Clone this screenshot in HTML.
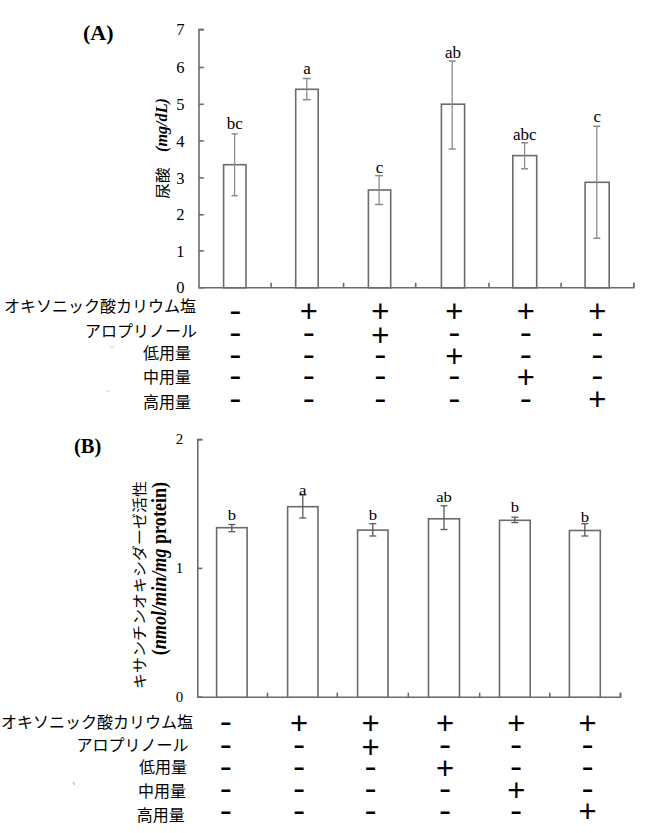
<!DOCTYPE html>
<html><head><meta charset="utf-8"><title>Figure</title>
<style>
html,body{margin:0;padding:0;background:#fff;}
svg{display:block;}
text{fill:#000;stroke:none;}
.s{font-family:"Liberation Serif","Times New Roman",serif;}
.j{font-family:"Liberation Sans","Noto Sans CJK JP",sans-serif;}
.g{font-family:"Liberation Sans",Arial,sans-serif;}
.bar{fill:#fff;stroke:#6b6b6b;stroke-width:1.6;}
</style></head>
<body>
<svg width="650" height="833" viewBox="0 0 650 833">
<rect width="650" height="833" fill="#fff"/>
<g stroke="#6b6b6b" stroke-width="1.6">
<path d="M203.8 29.6 H199 V287.8 H633.8 V282.8" fill="none" stroke="#6b6b6b" stroke-width="1.6" stroke-linejoin="miter"/>
<line x1="199" y1="287.8" x2="203.8" y2="287.8"/>
<text class="s" x="184.5" y="293.4" font-size="16.5" text-anchor="end">0</text>
<line x1="199" y1="250.9" x2="203.8" y2="250.9"/>
<text class="s" x="184.5" y="256.5" font-size="16.5" text-anchor="end">1</text>
<line x1="199" y1="214.8" x2="203.8" y2="214.8"/>
<text class="s" x="184.5" y="220.4" font-size="16.5" text-anchor="end">2</text>
<line x1="199" y1="177.9" x2="203.8" y2="177.9"/>
<text class="s" x="184.5" y="183.5" font-size="16.5" text-anchor="end">3</text>
<line x1="199" y1="140.9" x2="203.8" y2="140.9"/>
<text class="s" x="184.5" y="146.5" font-size="16.5" text-anchor="end">4</text>
<line x1="199" y1="104.3" x2="203.8" y2="104.3"/>
<text class="s" x="184.5" y="109.9" font-size="16.5" text-anchor="end">5</text>
<line x1="199" y1="67.5" x2="203.8" y2="67.5"/>
<text class="s" x="184.5" y="73.1" font-size="16.5" text-anchor="end">6</text>
<line x1="199" y1="29.6" x2="203.8" y2="29.6"/>
<text class="s" x="184.5" y="35.2" font-size="16.5" text-anchor="end">7</text>
<line x1="271.1" y1="287.8" x2="271.1" y2="282.8"/>
<line x1="343.6" y1="287.8" x2="343.6" y2="282.8"/>
<line x1="415.7" y1="287.8" x2="415.7" y2="282.8"/>
<line x1="489" y1="287.8" x2="489" y2="282.8"/>
<line x1="561.1" y1="287.8" x2="561.1" y2="282.8"/>
<line x1="633.8" y1="287.8" x2="633.8" y2="282.8"/>
<rect class="bar" x="223.6" y="164.7" width="22.4" height="123.1"/>
<line x1="234.6" y1="133.9" x2="234.6" y2="195.7" stroke="#8c8c8c" stroke-width="1.3"/>
<line x1="231.6" y1="133.9" x2="237.6" y2="133.9" stroke="#8a8a8a" stroke-width="1.5"/>
<line x1="231.6" y1="195.7" x2="237.6" y2="195.7" stroke="#8a8a8a" stroke-width="1.5"/>
<text class="s" x="234.8" y="128.8" font-size="17" text-anchor="middle">bc</text>
<rect class="bar" x="295.7" y="89.3" width="22.5" height="198.5"/>
<line x1="306.8" y1="78.5" x2="306.8" y2="99.7" stroke="#8c8c8c" stroke-width="1.3"/>
<line x1="302.8" y1="78.5" x2="310.8" y2="78.5" stroke="#8a8a8a" stroke-width="1.5"/>
<line x1="302.8" y1="99.7" x2="310.8" y2="99.7" stroke="#8a8a8a" stroke-width="1.5"/>
<text class="s" x="306.95" y="74.4" font-size="17" text-anchor="middle">a</text>
<rect class="bar" x="368.4" y="190" width="22.3" height="97.8"/>
<line x1="379.1" y1="175.6" x2="379.1" y2="204.5" stroke="#8c8c8c" stroke-width="1.3"/>
<line x1="375.1" y1="175.6" x2="383.1" y2="175.6" stroke="#8a8a8a" stroke-width="1.5"/>
<line x1="375.1" y1="204.5" x2="383.1" y2="204.5" stroke="#8a8a8a" stroke-width="1.5"/>
<text class="s" x="379.55" y="172.8" font-size="17" text-anchor="middle">c</text>
<rect class="bar" x="441.4" y="104.2" width="23.2" height="183.6"/>
<line x1="452.2" y1="61" x2="452.2" y2="149" stroke="#8c8c8c" stroke-width="1.3"/>
<line x1="448.7" y1="61" x2="455.7" y2="61" stroke="#8a8a8a" stroke-width="1.5"/>
<line x1="448.7" y1="149" x2="455.7" y2="149" stroke="#8a8a8a" stroke-width="1.5"/>
<text class="s" x="453" y="58" font-size="17" text-anchor="middle">ab</text>
<rect class="bar" x="512.8" y="155.6" width="23.9" height="132.2"/>
<line x1="524.6" y1="142.8" x2="524.6" y2="168.8" stroke="#8c8c8c" stroke-width="1.3"/>
<line x1="521.1" y1="142.8" x2="528.1" y2="142.8" stroke="#8a8a8a" stroke-width="1.5"/>
<line x1="521.1" y1="168.8" x2="528.1" y2="168.8" stroke="#8a8a8a" stroke-width="1.5"/>
<text class="s" x="524.75" y="139.5" font-size="17" text-anchor="middle">abc</text>
<rect class="bar" x="585.1" y="182.3" width="24.1" height="105.5"/>
<line x1="596.8" y1="126.3" x2="596.8" y2="238.3" stroke="#8c8c8c" stroke-width="1.3"/>
<line x1="593.3" y1="126.3" x2="600.3" y2="126.3" stroke="#8a8a8a" stroke-width="1.5"/>
<line x1="593.3" y1="238.3" x2="600.3" y2="238.3" stroke="#8a8a8a" stroke-width="1.5"/>
<text class="s" x="597.15" y="121.8" font-size="17" text-anchor="middle">c</text>
<text class="s" x="83" y="40" font-size="22" font-weight="bold">(A)</text>
<text transform="translate(167.6 198.7) rotate(-90) scale(1 0.92)" font-size="15.6" class="j">尿酸</text>
<text transform="translate(167.3 152) rotate(-90)" font-size="16.2" class="s" font-weight="bold" font-style="italic">(mg/dL)</text>
<text class="j" x="196" y="311.5" font-size="16" text-anchor="end">オキソニック酸カリウム塩</text>
<text class="j" x="197" y="337" font-size="16" text-anchor="end">アロプリノール</text>
<text class="j" x="191" y="359" font-size="16" text-anchor="end">低用量</text>
<text class="j" x="191" y="383" font-size="16" text-anchor="end">中用量</text>
<text class="j" x="191" y="407.5" font-size="16" text-anchor="end">高用量</text>
<text transform="translate(235.4 322) scale(1.18 1.1)" class="g" font-size="31" text-anchor="middle">-</text>
<text class="g" x="308.8" y="322" font-size="31" text-anchor="middle">+</text>
<text class="g" x="380.3" y="322" font-size="31" text-anchor="middle">+</text>
<text class="g" x="454.4" y="322" font-size="31" text-anchor="middle">+</text>
<text class="g" x="525.8" y="322" font-size="31" text-anchor="middle">+</text>
<text class="g" x="597.3" y="322" font-size="31" text-anchor="middle">+</text>
<text transform="translate(235.4 344) scale(1.18 1.1)" class="g" font-size="31" text-anchor="middle">-</text>
<text transform="translate(308.8 344) scale(1.18 1.1)" class="g" font-size="31" text-anchor="middle">-</text>
<text class="g" x="380.3" y="346" font-size="31" text-anchor="middle">+</text>
<text transform="translate(454.4 344) scale(1.18 1.1)" class="g" font-size="31" text-anchor="middle">-</text>
<text transform="translate(525.8 344) scale(1.18 1.1)" class="g" font-size="31" text-anchor="middle">-</text>
<text transform="translate(597.3 344) scale(1.18 1.1)" class="g" font-size="31" text-anchor="middle">-</text>
<text transform="translate(235.4 366) scale(1.18 1.1)" class="g" font-size="31" text-anchor="middle">-</text>
<text transform="translate(308.8 366) scale(1.18 1.1)" class="g" font-size="31" text-anchor="middle">-</text>
<text transform="translate(380.3 366) scale(1.18 1.1)" class="g" font-size="31" text-anchor="middle">-</text>
<text class="g" x="454.4" y="367" font-size="31" text-anchor="middle">+</text>
<text transform="translate(525.8 366) scale(1.18 1.1)" class="g" font-size="31" text-anchor="middle">-</text>
<text transform="translate(597.3 366) scale(1.18 1.1)" class="g" font-size="31" text-anchor="middle">-</text>
<text transform="translate(235.4 387) scale(1.18 1.1)" class="g" font-size="31" text-anchor="middle">-</text>
<text transform="translate(308.8 387) scale(1.18 1.1)" class="g" font-size="31" text-anchor="middle">-</text>
<text transform="translate(380.3 387) scale(1.18 1.1)" class="g" font-size="31" text-anchor="middle">-</text>
<text transform="translate(454.4 387) scale(1.18 1.1)" class="g" font-size="31" text-anchor="middle">-</text>
<text class="g" x="525.8" y="388" font-size="31" text-anchor="middle">+</text>
<text transform="translate(597.3 387) scale(1.18 1.1)" class="g" font-size="31" text-anchor="middle">-</text>
<text transform="translate(235.4 410) scale(1.18 1.1)" class="g" font-size="31" text-anchor="middle">-</text>
<text transform="translate(308.8 410) scale(1.18 1.1)" class="g" font-size="31" text-anchor="middle">-</text>
<text transform="translate(380.3 410) scale(1.18 1.1)" class="g" font-size="31" text-anchor="middle">-</text>
<text transform="translate(454.4 410) scale(1.18 1.1)" class="g" font-size="31" text-anchor="middle">-</text>
<text transform="translate(525.8 410) scale(1.18 1.1)" class="g" font-size="31" text-anchor="middle">-</text>
<text class="g" x="597.3" y="410" font-size="31" text-anchor="middle">+</text>
<path d="M202.3 439.6 H197.8 V697.2 H620.5 V692.7" fill="none" stroke="#6b6b6b" stroke-width="1.6" stroke-linejoin="miter"/>
<line x1="197.8" y1="697.2" x2="202.3" y2="697.2"/>
<text class="s" x="183.3" y="702" font-size="15" text-anchor="end">0</text>
<line x1="197.8" y1="568.4" x2="202.3" y2="568.4"/>
<text class="s" x="183.3" y="573.2" font-size="15" text-anchor="end">1</text>
<line x1="197.8" y1="439.6" x2="202.3" y2="439.6"/>
<text class="s" x="183.3" y="443.9" font-size="15" text-anchor="end">2</text>
<line x1="267.5" y1="697.2" x2="267.5" y2="692.7"/>
<line x1="337.3" y1="697.2" x2="337.3" y2="692.7"/>
<line x1="408.3" y1="697.2" x2="408.3" y2="692.7"/>
<line x1="479.7" y1="697.2" x2="479.7" y2="692.7"/>
<line x1="549.8" y1="697.2" x2="549.8" y2="692.7"/>
<line x1="620.5" y1="697.2" x2="620.5" y2="692.7"/>
<rect class="bar" x="216.6" y="527.7" width="30.5" height="169.5"/>
<line x1="231.85" y1="524.5" x2="231.85" y2="531.7" stroke="#5a5a5a" stroke-width="1.3"/>
<line x1="228.35" y1="524.5" x2="235.35" y2="524.5" stroke="#5a5a5a" stroke-width="1.3"/>
<line x1="228.35" y1="531.7" x2="235.35" y2="531.7" stroke="#5a5a5a" stroke-width="1.3"/>
<text class="s" transform="translate(231.85 519.5) scale(1.15 1)" font-size="14.5" text-anchor="middle">b</text>
<rect class="bar" x="287.6" y="506.7" width="30.4" height="190.5"/>
<line x1="302.8" y1="494.9" x2="302.8" y2="518" stroke="#5a5a5a" stroke-width="1.3"/>
<line x1="299.3" y1="494.9" x2="306.3" y2="494.9" stroke="#5a5a5a" stroke-width="1.3"/>
<line x1="299.3" y1="518" x2="306.3" y2="518" stroke="#5a5a5a" stroke-width="1.3"/>
<text class="s" transform="translate(302.8 494.9) scale(1.15 1)" font-size="14.5" text-anchor="middle">a</text>
<rect class="bar" x="357.6" y="530.1" width="30.4" height="167.1"/>
<line x1="372.8" y1="523.7" x2="372.8" y2="536" stroke="#5a5a5a" stroke-width="1.3"/>
<line x1="369.3" y1="523.7" x2="376.3" y2="523.7" stroke="#5a5a5a" stroke-width="1.3"/>
<line x1="369.3" y1="536" x2="376.3" y2="536" stroke="#5a5a5a" stroke-width="1.3"/>
<text class="s" transform="translate(372.8 520.4) scale(1.15 1)" font-size="14.5" text-anchor="middle">b</text>
<rect class="bar" x="428.5" y="518.8" width="31" height="178.4"/>
<line x1="444" y1="505.8" x2="444" y2="529.5" stroke="#5a5a5a" stroke-width="1.3"/>
<line x1="440.5" y1="505.8" x2="447.5" y2="505.8" stroke="#5a5a5a" stroke-width="1.3"/>
<line x1="440.5" y1="529.5" x2="447.5" y2="529.5" stroke="#5a5a5a" stroke-width="1.3"/>
<text class="s" transform="translate(444 502.3) scale(1.15 1)" font-size="14.5" text-anchor="middle">ab</text>
<rect class="bar" x="499.5" y="520.3" width="30.7" height="176.9"/>
<line x1="514.85" y1="517.2" x2="514.85" y2="522.6" stroke="#5a5a5a" stroke-width="1.3"/>
<line x1="511.35" y1="517.2" x2="518.35" y2="517.2" stroke="#5a5a5a" stroke-width="1.3"/>
<line x1="511.35" y1="522.6" x2="518.35" y2="522.6" stroke="#5a5a5a" stroke-width="1.3"/>
<text class="s" transform="translate(514.85 512.3) scale(1.15 1)" font-size="14.5" text-anchor="middle">b</text>
<rect class="bar" x="569.4" y="530.5" width="30.9" height="166.7"/>
<line x1="584.85" y1="523.7" x2="584.85" y2="536" stroke="#5a5a5a" stroke-width="1.3"/>
<line x1="581.35" y1="523.7" x2="588.35" y2="523.7" stroke="#5a5a5a" stroke-width="1.3"/>
<line x1="581.35" y1="536" x2="588.35" y2="536" stroke="#5a5a5a" stroke-width="1.3"/>
<text class="s" transform="translate(584.85 521.5) scale(1.15 1)" font-size="14.5" text-anchor="middle">b</text>
<text class="s" x="74" y="452.6" font-size="20.5" font-weight="bold">(B)</text>
<text transform="translate(144.6 689) rotate(-90) scale(1 0.9)" font-size="16" class="j">キサンチンオキシダーゼ活性</text>
<text transform="translate(165.6 655.3) rotate(-90) scale(0.885 1)" font-size="20.5" class="s" font-weight="bold">(<tspan font-style="italic">nmol/min/mg</tspan> protein)</text>
<text class="j" x="193" y="728" font-size="16" text-anchor="end">オキソニック酸カリウム塩</text>
<text class="j" x="188.5" y="750.5" font-size="16" text-anchor="end">アロプリノール</text>
<text class="j" x="187" y="772.5" font-size="16" text-anchor="end">低用量</text>
<text class="j" x="186" y="797" font-size="16" text-anchor="end">中用量</text>
<text class="j" x="184.8" y="820.5" font-size="16" text-anchor="end">高用量</text>
<text transform="translate(225.8 733) scale(1.18 1.1)" class="g" font-size="31" text-anchor="middle">-</text>
<text class="g" x="299.1" y="734" font-size="31" text-anchor="middle">+</text>
<text class="g" x="370.6" y="734" font-size="31" text-anchor="middle">+</text>
<text class="g" x="445.1" y="734" font-size="31" text-anchor="middle">+</text>
<text class="g" x="516.2" y="734" font-size="31" text-anchor="middle">+</text>
<text class="g" x="587.5" y="734" font-size="31" text-anchor="middle">+</text>
<text transform="translate(225.8 756) scale(1.18 1.1)" class="g" font-size="31" text-anchor="middle">-</text>
<text transform="translate(299.1 756) scale(1.18 1.1)" class="g" font-size="31" text-anchor="middle">-</text>
<text class="g" x="370.6" y="758" font-size="31" text-anchor="middle">+</text>
<text transform="translate(445.1 756) scale(1.18 1.1)" class="g" font-size="31" text-anchor="middle">-</text>
<text transform="translate(516.2 756) scale(1.18 1.1)" class="g" font-size="31" text-anchor="middle">-</text>
<text transform="translate(587.5 756) scale(1.18 1.1)" class="g" font-size="31" text-anchor="middle">-</text>
<text transform="translate(225.8 778) scale(1.18 1.1)" class="g" font-size="31" text-anchor="middle">-</text>
<text transform="translate(299.1 778) scale(1.18 1.1)" class="g" font-size="31" text-anchor="middle">-</text>
<text transform="translate(370.6 778) scale(1.18 1.1)" class="g" font-size="31" text-anchor="middle">-</text>
<text class="g" x="445.1" y="779" font-size="31" text-anchor="middle">+</text>
<text transform="translate(516.2 778) scale(1.18 1.1)" class="g" font-size="31" text-anchor="middle">-</text>
<text transform="translate(587.5 778) scale(1.18 1.1)" class="g" font-size="31" text-anchor="middle">-</text>
<text transform="translate(225.8 800) scale(1.18 1.1)" class="g" font-size="31" text-anchor="middle">-</text>
<text transform="translate(299.1 800) scale(1.18 1.1)" class="g" font-size="31" text-anchor="middle">-</text>
<text transform="translate(370.6 800) scale(1.18 1.1)" class="g" font-size="31" text-anchor="middle">-</text>
<text transform="translate(445.1 800) scale(1.18 1.1)" class="g" font-size="31" text-anchor="middle">-</text>
<text class="g" x="516.2" y="801" font-size="31" text-anchor="middle">+</text>
<text transform="translate(587.5 800) scale(1.18 1.1)" class="g" font-size="31" text-anchor="middle">-</text>
<text transform="translate(225.8 822) scale(1.18 1.1)" class="g" font-size="31" text-anchor="middle">-</text>
<text transform="translate(299.1 822) scale(1.18 1.1)" class="g" font-size="31" text-anchor="middle">-</text>
<text transform="translate(370.6 822) scale(1.18 1.1)" class="g" font-size="31" text-anchor="middle">-</text>
<text transform="translate(445.1 822) scale(1.18 1.1)" class="g" font-size="31" text-anchor="middle">-</text>
<text transform="translate(516.2 822) scale(1.18 1.1)" class="g" font-size="31" text-anchor="middle">-</text>
<text class="g" x="587.5" y="822" font-size="31" text-anchor="middle">+</text>
<line x1="73" y1="781.8" x2="74.6" y2="785" stroke="#b5b5b5" stroke-width="1.2"/>
<line x1="109.5" y1="347" x2="114.5" y2="347" stroke="#d0d0d0" stroke-width="1"/>
<line x1="106" y1="391.2" x2="110" y2="391.2" stroke="#d8d8d8" stroke-width="1"/>
</g>
</svg>
</body></html>
